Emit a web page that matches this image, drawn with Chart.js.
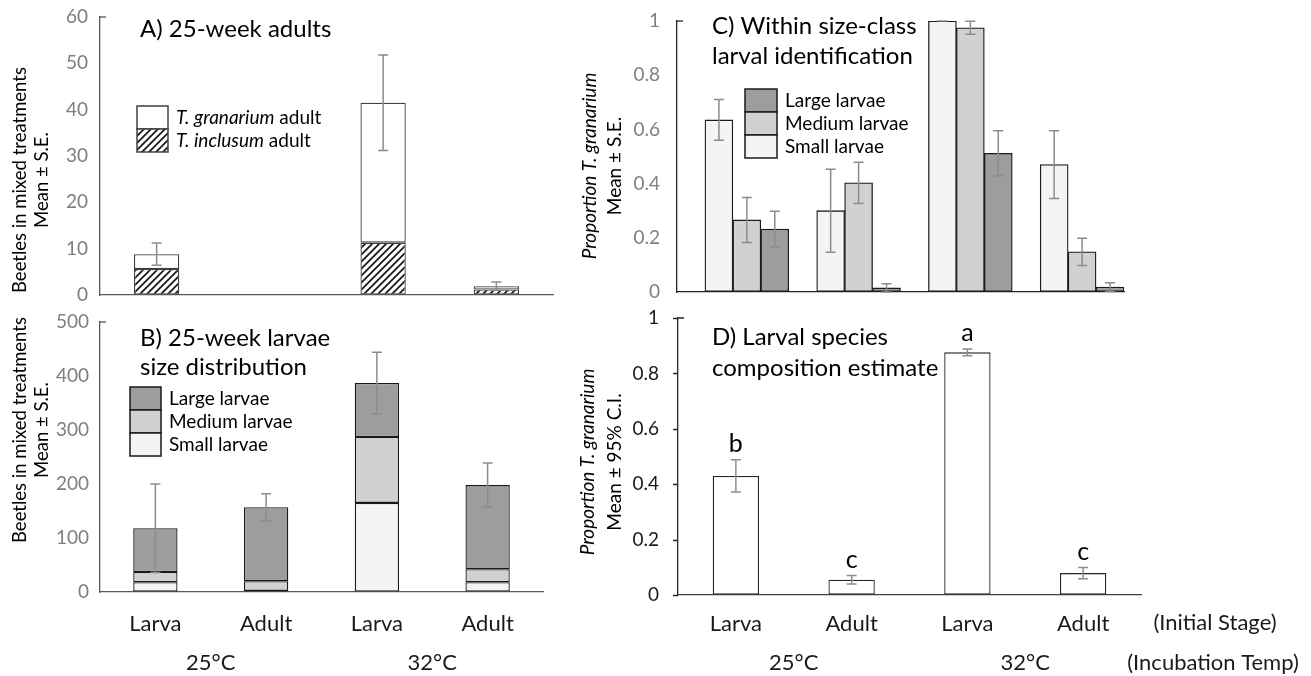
<!DOCTYPE html>
<html>
<head>
<meta charset="utf-8">
<script src="https://cdn.jsdelivr.net/npm/chart.js@4.4.1/dist/chart.umd.min.js"></script>
<style>
  body { margin: 0; background: #fff; width: 1311px; height: 676px; position: relative; overflow: hidden; }
  canvas { position: absolute; }
</style>
</head>
<body>
<canvas id="chartA" width="570" height="310" style="left:0;top:0"></canvas>
<canvas id="chartB" width="570" height="366" style="left:0;top:310px"></canvas>
<canvas id="chartC" width="741" height="310" style="left:570px;top:0"></canvas>
<canvas id="chartD" width="741" height="376" style="left:570px;top:300px"></canvas>
<script>
// Categorias
const stageLabels = ['Larva', 'Adult', 'Larva', 'Adult'];
const tempLabels = ['25°C', '32°C'];

// A) adultos com 25 semanas
const adultsInclusum = [5.6, 0, 11.3, 1.2];
const adultsGranarium = [3.2, 0, 30.2, 0.7];
const adultsSE = [2.4, null, 10.3, 0.9];

// B) larvas por tamanho
const larvaeSmall = [18, 2, 165, 18];
const larvaeMedium = [19, 18, 122, 24];
const larvaeLarge = [81, 137, 100, 156];
const larvaeSE = [82, 25, 57, 41];

// C) proporcao de T. granarium por classe de tamanho
const propSmall = [0.635, 0.30, 1.0, 0.47];
const propSmallSE = [0.075, 0.153, 0, 0.125];
const propMedium = [0.266, 0.403, 0.975, 0.148];
const propMediumSE = [0.083, 0.076, 0.024, 0.05];
const propLarge = [0.232, 0.015, 0.512, 0.018];
const propLargeSE = [0.066, 0.015, 0.083, 0.016];
const spacerSeries = [null, null, null, null];

// D) estimativa de composicao
const compEstimate = [0.43, 0.055, 0.876, 0.079];
const compCI = [0.058, 0.015, 0.012, 0.02];
const compLetters = ['b', 'c', 'a', 'c'];

const FONT = 'Lato, "Open Sans", sans-serif';
const SMALL_COLOR = '#f3f4f3';
const MEDIUM_COLOR = '#d0d1d0';
const LARGE_COLOR = '#9d9d9d';

// Padrao hachurado
function makeHatch() {
    const s = 7;
    const c = document.createElement('canvas');
    c.width = s; c.height = s;
    const g = c.getContext('2d');
    g.fillStyle = '#fff';
    g.fillRect(0, 0, s, s);
    g.strokeStyle = '#1a1a1a';
    g.lineWidth = 1.8;
    g.beginPath();
    g.moveTo(-1, 1); g.lineTo(1, -1);
    g.moveTo(0, s); g.lineTo(s, 0);
    g.moveTo(s - 1, s + 1); g.lineTo(s + 1, s - 1);
    g.stroke();
    return g.createPattern(c, 'repeat');
}
const hatch = makeHatch();

function drawParts(ctx, parts, x, y, size, align) {
    let total = 0;
    parts.forEach(p => {
        ctx.font = (p.italic ? 'italic ' : '') + size + 'px ' + FONT;
        p.w = ctx.measureText(p.text).width;
        total += p.w;
    });
    let cx = align === 'center' ? x - total / 2 : x;
    ctx.textAlign = 'left';
    parts.forEach(p => {
        ctx.font = (p.italic ? 'italic ' : '') + size + 'px ' + FONT;
        ctx.fillText(p.text, cx, y);
        cx += p.w;
    });
}

// Barras de erro (e letras de significancia)
const errorBars = {
    id: 'errorBars',
    afterDatasetsDraw(chart) {
        const ctx = chart.ctx;
        const y = chart.scales.y;
        chart.data.datasets.forEach((ds, di) => {
            if (!ds.errors) return;
            const meta = chart.getDatasetMeta(di);
            meta.data.forEach((bar, i) => {
                const e = ds.errors[i];
                if (e == null) return;
                const d = Math.abs(y.getPixelForValue(e) - y.getPixelForValue(0));
                const top = bar.y - d;
                const bottom = Math.min(bar.y + d, y.getPixelForValue(0));
                ctx.save();
                ctx.strokeStyle = '#8c8c8c';
                ctx.lineWidth = 1.5;
                ctx.beginPath();
                ctx.moveTo(bar.x, top); ctx.lineTo(bar.x, bottom);
                ctx.moveTo(bar.x - 5, top); ctx.lineTo(bar.x + 5, top);
                ctx.moveTo(bar.x - 5, bottom); ctx.lineTo(bar.x + 5, bottom);
                ctx.stroke();
                if (ds.letters) {
                    ctx.fillStyle = '#000';
                    ctx.font = '25px ' + FONT;
                    ctx.textAlign = 'center';
                    ctx.textBaseline = 'alphabetic';
                    ctx.fillText(ds.letters[i], bar.x, top - 8);
                }
                ctx.restore();
            });
        });
    }
};

// Titulos, legendas e rotulos extras
const panelDecor = {
    id: 'panelDecor',
    afterDraw(chart, args, o) {
        const ctx = chart.ctx;
        const area = chart.chartArea;
        const yS = chart.scales.y;
        ctx.save();

        // pequeno traco no topo do eixo y
        ctx.strokeStyle = o.axisColor;
        ctx.lineWidth = 1.3;
        ctx.beginPath();
        ctx.moveTo(area.left, area.top);
        ctx.lineTo(area.left + 6, area.top);
        if (o.outerTicks) {
            yS.ticks.forEach(t => {
                const py = Math.round(yS.getPixelForValue(t.value)) + 0.5;
                ctx.moveTo(area.left, py);
                ctx.lineTo(area.left - 5, py);
            });
        }
        ctx.stroke();

        ctx.fillStyle = '#000';
        ctx.textBaseline = 'alphabetic';
        ctx.textAlign = 'left';
        ctx.font = '24px ' + FONT;
        o.title.forEach((line, i) => ctx.fillText(line, o.titleX, o.titleY[i]));

        ctx.textBaseline = 'middle';
        o.yTitle.forEach((line, i) => {
            ctx.save();
            ctx.translate(o.yTitleX[i], o.yTitleY);
            ctx.rotate(-Math.PI / 2);
            drawParts(ctx, line, 0, 0, o.yTitleSize, 'center');
            ctx.restore();
        });

        if (o.legend) {
            const L = o.legend;
            L.items.forEach((it, i) => {
                const ds = chart.data.datasets[it.dataset];
                const by = L.y + i * L.h;
                ctx.fillStyle = ds.backgroundColor;
                ctx.fillRect(L.x, by, L.w, L.h);
                ctx.strokeStyle = ds.borderColor;
                ctx.lineWidth = 1.5;
                ctx.strokeRect(L.x, by, L.w, L.h);
                ctx.fillStyle = '#000';
                drawParts(ctx, it.text, L.x + L.w + 8, by + L.h / 2, 19, 'left');
            });
        }

        if (o.groups) {
            const x = chart.scales.x;
            ctx.fillStyle = '#1a1a1a';
            ctx.font = '22px ' + FONT;
            ctx.textAlign = 'center';
            tempLabels.forEach((t, g) => {
                const cx = (x.getPixelForValue(g * 2) + x.getPixelForValue(g * 2 + 1)) / 2;
                ctx.fillText(t, cx, o.groupsY);
            });
        }
        if (o.notes) {
            ctx.fillStyle = '#1a1a1a';
            ctx.font = '22px ' + FONT;
            ctx.textAlign = 'center';
            o.notes.forEach(n => ctx.fillText(n.text, n.x, n.y));
        }
        ctx.restore();
    }
};

function yAxis(max, step, width, color, tickColor, gap) {
    return {
        min: 0, max: max,
        ticks: {
            stepSize: step, color: tickColor, padding: 0,
            font: { family: FONT, size: 19 },
            callback: v => String(Number(v.toFixed(2)))
        },
        // tracos invisiveis so para afastar os rotulos do eixo
        grid: { display: true, drawOnChartArea: false, drawTicks: true, tickLength: gap, tickColor: 'rgba(0,0,0,0)' },
        border: { display: true, color: color, width: 1.3 },
        afterFit: s => { s.width = width; }
    };
}

function xAxis(height, color, showLabels, padding) {
    return {
        type: 'category',
        labels: stageLabels,
        ticks: { display: showLabels, color: '#1a1a1a', font: { family: FONT, size: 22 }, padding: padding, maxRotation: 0, autoSkip: false },
        grid: { display: false },
        border: { display: true, color: color, width: 1.3 },
        afterFit: s => { s.height = height; }
    };
}

const baseOptions = {
    responsive: false,
    animation: false,
    events: []
};

// Painel A
new Chart(document.getElementById('chartA'), {
    type: 'bar',
    data: {
        labels: stageLabels,
        datasets: [
            { label: 'T. inclusum adult', data: adultsInclusum, backgroundColor: hatch, borderColor: '#404040', borderWidth: 1.3, borderSkipped: false },
            { label: 'T. granarium adult', data: adultsGranarium, errors: adultsSE, backgroundColor: '#ffffff', borderColor: '#404040', borderWidth: 1.3, borderSkipped: false }
        ]
    },
    options: Object.assign({}, baseOptions, {
        layout: { padding: { left: 0, top: 17, right: 17, bottom: 0 } },
        datasets: { bar: { categoryPercentage: 1, barPercentage: 0.4 } },
        scales: {
            x: Object.assign(xAxis(15, '#595959', false, 0), { stacked: true }),
            y: Object.assign(yAxis(60, 10, 100, '#595959', '#7f7f7f', 12), { stacked: true })
        },
        plugins: {
            legend: { display: false },
            tooltip: { enabled: false },
            panelDecor: {
                axisColor: '#595959',
                title: ['A) 25-week adults'], titleX: 140, titleY: [37],
                yTitle: [[{ text: 'Beetles in mixed treatments' }], [{ text: 'Mean ± S.E.' }]],
                yTitleX: [20, 42], yTitleY: 180, yTitleSize: 18.5,
                legend: {
                    x: 137, y: 106, w: 31, h: 23,
                    items: [
                        { dataset: 1, text: [{ text: 'T. granarium', italic: true }, { text: ' adult' }] },
                        { dataset: 0, text: [{ text: 'T. inclusum', italic: true }, { text: ' adult' }] }
                    ]
                }
            }
        }
    }),
    plugins: [errorBars, panelDecor]
});

// Painel B
new Chart(document.getElementById('chartB'), {
    type: 'bar',
    data: {
        labels: stageLabels,
        datasets: [
            { label: 'Small larvae', data: larvaeSmall, backgroundColor: SMALL_COLOR, borderColor: '#1a1a1a', borderWidth: 1.3, borderSkipped: false },
            { label: 'Medium larvae', data: larvaeMedium, backgroundColor: MEDIUM_COLOR, borderColor: '#1a1a1a', borderWidth: 1.3, borderSkipped: false },
            { label: 'Large larvae', data: larvaeLarge, errors: larvaeSE, backgroundColor: LARGE_COLOR, borderColor: '#1a1a1a', borderWidth: 1.3, borderSkipped: false }
        ]
    },
    options: Object.assign({}, baseOptions, {
        layout: { padding: { left: 0, top: 12, right: 27, bottom: 0 } },
        datasets: { bar: { categoryPercentage: 1, barPercentage: 0.4 } },
        scales: {
            x: Object.assign(xAxis(84, '#595959', true, 11), { stacked: true }),
            y: Object.assign(yAxis(500, 100, 100, '#595959', '#7f7f7f', 11), { stacked: true })
        },
        plugins: {
            legend: { display: false },
            tooltip: { enabled: false },
            panelDecor: {
                axisColor: '#595959',
                title: ['B) 25-week larvae', 'size distribution'], titleX: 140, titleY: [36, 65],
                yTitle: [[{ text: 'Beetles in mixed treatments' }], [{ text: 'Mean ± S.E.' }]],
                yTitleX: [20, 42], yTitleY: 120, yTitleSize: 18.5,
                legend: {
                    x: 130, y: 77, w: 31, h: 23,
                    items: [
                        { dataset: 2, text: [{ text: 'Large larvae' }] },
                        { dataset: 1, text: [{ text: 'Medium larvae' }] },
                        { dataset: 0, text: [{ text: 'Small larvae' }] }
                    ]
                },
                groups: true, groupsY: 353
            }
        }
    }),
    plugins: [errorBars, panelDecor]
});

// Painel C
new Chart(document.getElementById('chartC'), {
    type: 'bar',
    data: {
        labels: stageLabels,
        datasets: [
            { label: '', data: spacerSeries, backgroundColor: 'rgba(0,0,0,0)' },
            { label: 'Small larvae', data: propSmall, errors: propSmallSE, backgroundColor: SMALL_COLOR, borderColor: '#1a1a1a', borderWidth: 1.3, borderSkipped: false },
            { label: 'Medium larvae', data: propMedium, errors: propMediumSE, backgroundColor: MEDIUM_COLOR, borderColor: '#1a1a1a', borderWidth: 1.3, borderSkipped: false },
            { label: 'Large larvae', data: propLarge, errors: propLargeSE, backgroundColor: LARGE_COLOR, borderColor: '#1a1a1a', borderWidth: 1.3, borderSkipped: false }
        ]
    },
    options: Object.assign({}, baseOptions, {
        layout: { padding: { left: 0, top: 21, right: 187, bottom: 0 } },
        datasets: { bar: { categoryPercentage: 1, barPercentage: 1 } },
        scales: {
            x: xAxis(18, '#262626', false, 0),
            y: yAxis(1, 0.2, 107, '#262626', '#7f7f7f', 17)
        },
        plugins: {
            legend: { display: false },
            tooltip: { enabled: false },
            panelDecor: {
                axisColor: '#262626',
                title: ['C) Within size-class', 'larval identification'], titleX: 142, titleY: [34, 64],
                yTitle: [[{ text: 'Proportion T. granarium', italic: true }], [{ text: 'Mean ± S.E.' }]],
                yTitleX: [20, 45], yTitleY: 166, yTitleSize: 19,
                legend: {
                    x: 175, y: 89, w: 32, h: 23,
                    items: [
                        { dataset: 3, text: [{ text: 'Large larvae' }] },
                        { dataset: 2, text: [{ text: 'Medium larvae' }] },
                        { dataset: 1, text: [{ text: 'Small larvae' }] }
                    ]
                }
            }
        }
    }),
    plugins: [errorBars, panelDecor]
});

// Painel D
new Chart(document.getElementById('chartD'), {
    type: 'bar',
    data: {
        labels: stageLabels,
        datasets: [
            { label: 'Composition estimate', data: compEstimate, errors: compCI, letters: compLetters, backgroundColor: '#ffffff', borderColor: '#262626', borderWidth: 1.3, borderSkipped: false }
        ]
    },
    options: Object.assign({}, baseOptions, {
        layout: { padding: { left: 0, top: 18, right: 170, bottom: 0 } },
        datasets: { bar: { categoryPercentage: 1, barPercentage: 0.4 } },
        scales: {
            x: xAxis(81, '#404040', true, 8),
            y: yAxis(1, 0.2, 108, '#262626', '#1a1a1a', 19)
        },
        plugins: {
            legend: { display: false },
            tooltip: { enabled: false },
            panelDecor: {
                axisColor: '#262626', outerTicks: true,
                title: ['D) Larval species', 'composition estimate'], titleX: 142, titleY: [45, 76],
                yTitle: [[{ text: 'Proportion T. granarium', italic: true }], [{ text: 'Mean ± 95% C.I.' }]],
                yTitleX: [18, 45], yTitleY: 162, yTitleSize: 19,
                groups: true, groupsY: 363,
                notes: [
                    { text: '(Initial Stage)', x: 645, y: 323 },
                    { text: '(Incubation Temp)', x: 643, y: 363 }
                ]
            }
        }
    }),
    plugins: [errorBars, panelDecor]
});
</script>
</body>
</html>
